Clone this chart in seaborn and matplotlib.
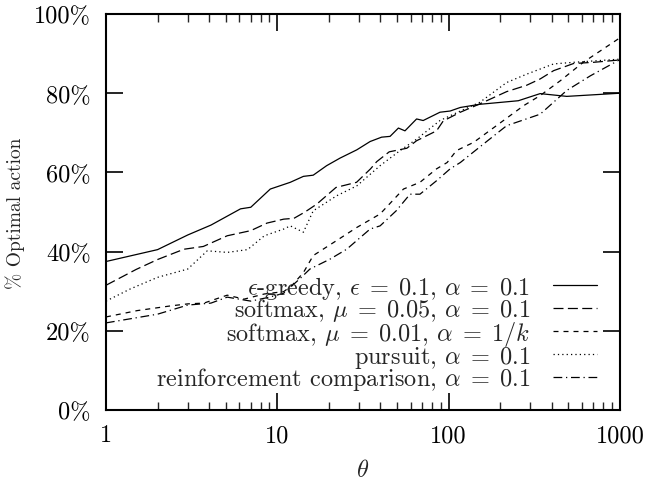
import numpy as np
import pandas as pd
import matplotlib
matplotlib.use("Agg")
import matplotlib.pyplot as plt
from matplotlib.ticker import PercentFormatter, LogLocator, NullFormatter
import seaborn as sns

# values (theta, % optimal action)
greedy_x = [1, 2, 3, 4.1, 6.1, 7, 9.1, 11.9, 14.2, 16.2, 19.4, 23.2, 29.1, 34.8, 40.6, 45.5,
            50.9, 55.6, 65, 71, 89, 102, 117, 152, 255, 342, 489, 838, 1000]
greedy_y = [37.5, 40.5, 44.2, 46.7, 50.8, 51.2, 55.8, 57.5, 59.0, 59.3, 61.7, 63.6, 65.7, 67.8, 68.9, 69.1,
            71.2, 70.5, 73.5, 73.1, 75.2, 75.5, 76.4, 77.2, 78.1, 79.9, 79.2, 79.8, 80.0]

soft05_x = [1, 1.5, 2, 2.85, 3.7, 5.1, 7, 8.7, 10.9, 12.5, 14.5, 17, 22, 29, 35, 38, 45, 57, 65,
            85, 93, 117, 152, 218, 285, 342, 410, 536, 700, 1000]
soft05_y = [31.5, 35.5, 38, 40.6, 41.3, 44, 45.3, 47.2, 48.2, 48.4, 50, 52, 56.2, 57.5, 60.9, 62.7, 65.2, 66.1, 68,
            70.5, 73, 75.2, 77.3, 80.4, 82, 83.6, 85.7, 87.5, 87.8, 88.4]

soft01_x = [1, 1.52, 2.39, 3, 3.73, 5.1, 6.4, 8.4, 10.9, 12.2, 14.2, 16.2, 22.2, 29.1, 39.8, 54.5,
            68, 85, 98, 111, 140, 190, 275, 342, 450, 610, 800, 1000]
soft01_y = [23.5, 25.1, 26.3, 26.8, 27.0, 29.0, 28.0, 29.3, 29.9, 31.5, 34.7, 39, 42.8, 46.1, 49.5, 55.8,
            57.5, 60.9, 62.5, 65.5, 67.6, 71.8, 76.9, 79.4, 83.2, 87.8, 91.2, 94]

pursuit_x = [1, 1.39, 2, 3, 3.9, 5.1, 6.7, 8.4, 10.9, 11.9, 14.2, 16.2, 22.2, 29.1, 39.8, 52, 65,
             89, 117, 152, 218, 285, 410, 536, 1000]
pursuit_y = [27.5, 30.6, 33.5, 35.6, 40.2, 39.8, 40.5, 44.0, 45.7, 46.5, 44.9, 50.3, 54.1, 56.6, 61.7, 65.5, 68.4,
             73.1, 75.5, 77.7, 82.7, 84.8, 87.4, 87.8, 88.6]

reinf_x = [1, 2, 3, 4.1, 5.1, 7, 9, 10.9, 13.5, 15.5, 20.3, 25.4, 34.8, 39.8, 49.4, 59.5, 68,
           85, 102, 117, 160, 218, 342, 489, 672, 1000]
reinf_y = [22.0, 24.2, 26.5, 27.0, 28.5, 27.5, 28.5, 29.5, 33.1, 35.6, 38.1, 40.6, 45.7, 46.5, 50.3, 54.5, 54.5,
           57.9, 60.9, 62.5, 67.2, 71.8, 74.7, 80.7, 84.4, 88.5]

labels = [r"$\epsilon$-greedy, $\epsilon\;=\;0.1$, $\alpha\;=\;0.1$",
          r"softmax, $\mu\;=\;0.05$, $\alpha\;=\;0.1$",
          r"softmax, $\mu\;=\;0.01$, $\alpha\;=\;1/k$",
          r"pursuit, $\alpha\;=\;0.1$",
          r"reinforcement comparison, $\alpha\;=\;0.1$"]
styles = ["-", (0, (8, 3.5)), (0, (4, 4)), (0, (1, 2.5)), (0, (7, 3, 1, 3))]
series = [(greedy_x, greedy_y), (soft05_x, soft05_y), (soft01_x, soft01_y),
          (pursuit_x, pursuit_y), (reinf_x, reinf_y)]

sns.set_style("ticks")
# LaTeX look: computer modern text + math
plt.rcParams["font.family"] = ["cmr10", "DejaVu Serif"]
plt.rcParams["mathtext.fontset"] = "cm"
plt.rcParams["axes.formatter.use_mathtext"] = True

fig = plt.figure(figsize=(6.49, 4.81), dpi=100)
ax = fig.add_axes([0.1633, 0.1455, 0.792, 0.8233])

for (xs, ys), lab, ls in zip(series, labels, styles):
    df = pd.DataFrame({"theta": xs, "pct": ys})
    sns.lineplot(data=df, x="theta", y="pct", ax=ax, color="black", linewidth=0.9,
                 linestyle=ls, label=lab)

ax.set_xscale("log")
ax.set_xlim(1, 1000)
ax.set_ylim(0, 100)
ax.set_yticks([0, 20, 40, 60, 80, 100])
ax.yaxis.set_major_formatter(PercentFormatter(xmax=100, decimals=0))
ax.set_xticks([1, 10, 100, 1000])
ax.set_xticklabels(["1", "10", "100", "1000"])
ax.xaxis.set_minor_locator(LogLocator(base=10, subs=np.arange(2, 10)))
ax.xaxis.set_minor_formatter(NullFormatter())

for sp in ax.spines.values():
    sp.set_visible(True)
    sp.set_linewidth(1.5)
    sp.set_color("black")

ax.tick_params(which="major", direction="in", length=12, width=1.2, top=True, right=True,
               labelsize=17.5, colors="black")
ax.tick_params(which="minor", direction="in", length=6, width=1.0, top=True, right=True)
ax.tick_params(axis="y", pad=11)
ax.tick_params(axis="x", pad=10)

ax.set_xlabel(r"$\theta$", fontsize=17.5, labelpad=9)
ax.set_ylabel("% Optimal action", fontsize=14, labelpad=6)

ax.legend(loc="lower right", bbox_to_anchor=(0.955, 0.045), frameon=False, markerfirst=False,
          fontsize=17.5, handlelength=1.8, handletextpad=0.95, labelspacing=-0.18,
          borderpad=0, borderaxespad=0)

fig.savefig("out.png", dpi=100)
